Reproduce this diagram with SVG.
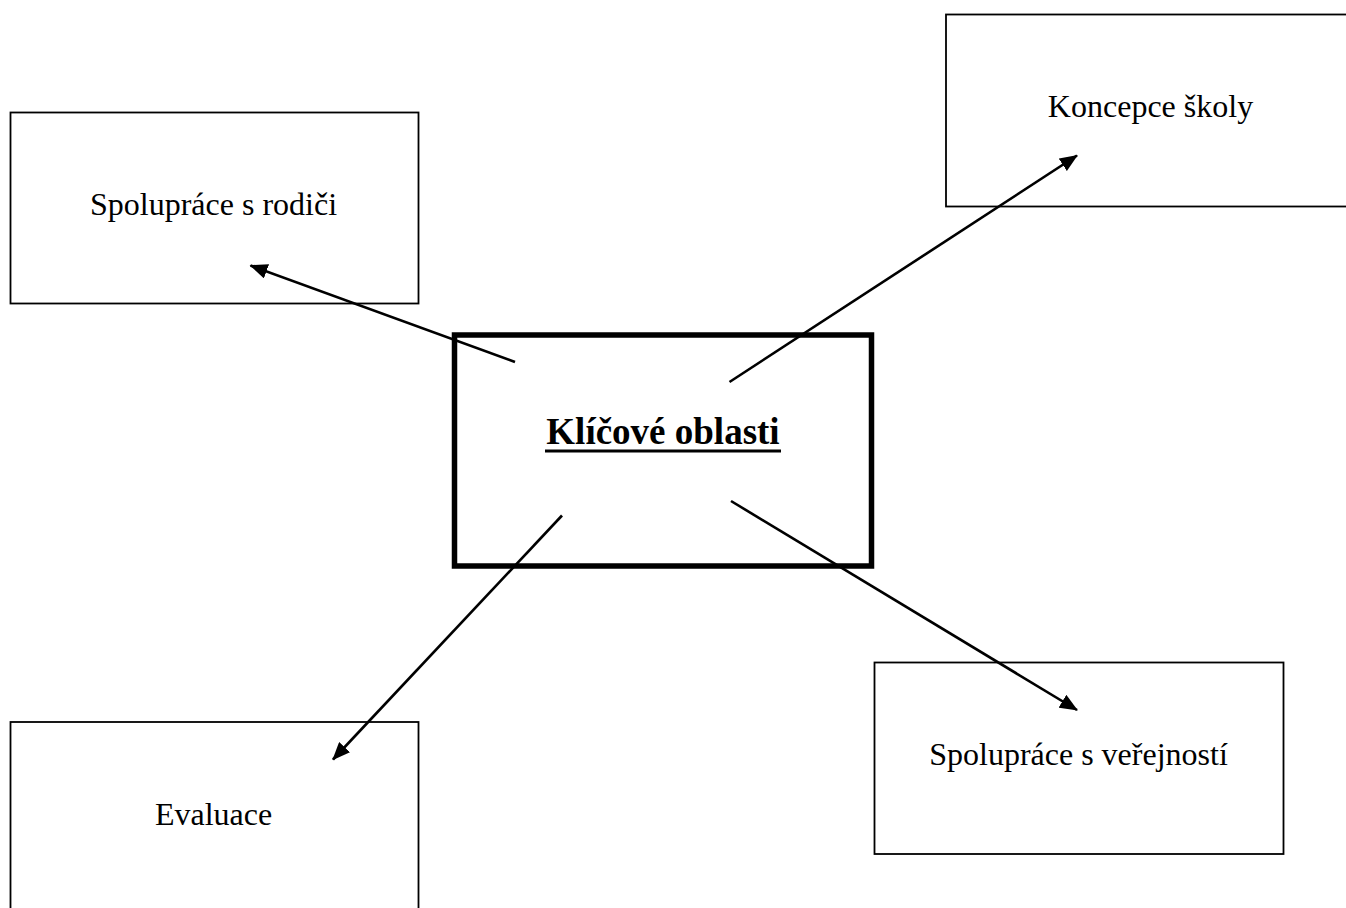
<svg xmlns="http://www.w3.org/2000/svg" width="1346" height="908" viewBox="0 0 1346 908">
<style>
.box{fill:#fff;stroke:#000;stroke-width:1.8}
.main{fill:#fff;stroke:#000;stroke-width:5.5}
.lbl{font-family:"Liberation Serif","Times New Roman",serif;font-size:32px;fill:#000;text-anchor:middle}
.title{font-family:"Liberation Serif","Times New Roman",serif;font-size:37px;font-weight:bold;fill:#000;text-anchor:middle}
.conn{stroke:#000;stroke-width:2.6;fill:none;marker-end:url(#arr)}
</style>
<defs>
<marker id="arr" viewBox="0 0 18 15" markerWidth="18" markerHeight="15" refX="17" refY="7.5" orient="auto" markerUnits="userSpaceOnUse">
<path d="M0,0 L18,7.5 L0,15 z" fill="#000"/>
</marker>
</defs>
<g id="node-rodice">
<rect class="box" x="10.5" y="112.5" width="408" height="191"/>
<text class="lbl" x="213.5" y="215">Spolupráce s rodiči</text>
</g>
<g id="node-koncepce">
<rect class="box" x="946" y="14.5" width="420" height="192"/>
<text class="lbl" x="1150.5" y="117">Koncepce školy</text>
</g>
<g id="node-evaluace">
<rect class="box" x="10.5" y="722" width="408" height="220"/>
<text class="lbl" x="213.5" y="825">Evaluace</text>
</g>
<g id="node-verejnost">
<rect class="box" x="874.5" y="662.5" width="409" height="191.5"/>
<text class="lbl" x="1078.5" y="765">Spolupráce s veřejností</text>
</g>
<g id="node-klicove">
<rect class="main" x="454.5" y="335" width="417" height="231"/>
<text class="title" x="663" y="444">Klíčové oblasti</text>
<rect x="545" y="449.5" width="236" height="3" fill="#000"/>
</g>
<g id="connectors">
<line class="conn" x1="515" y1="362" x2="250.5" y2="265.5"/>
<line class="conn" x1="729.5" y1="382" x2="1077" y2="155.5"/>
<line class="conn" x1="562" y1="515.5" x2="333" y2="759.5"/>
<line class="conn" x1="731" y1="501" x2="1077" y2="710"/>
</g>
</svg>
